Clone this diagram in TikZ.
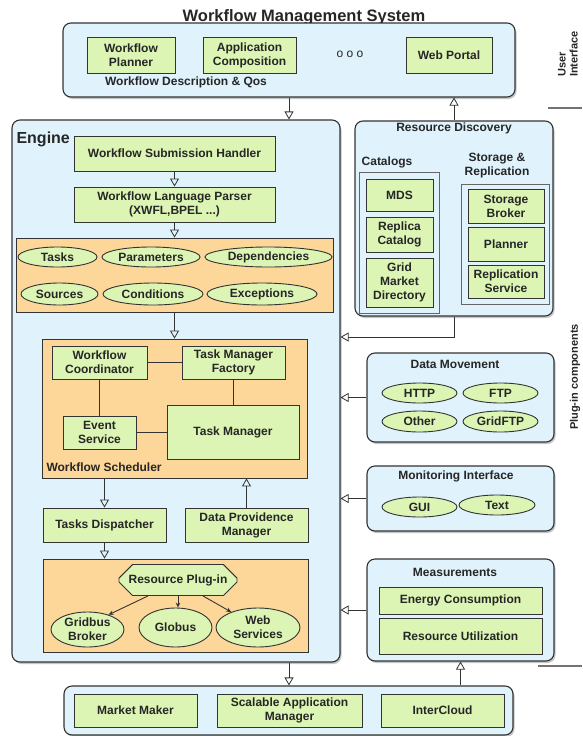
\documentclass[tikz,border=0pt]{standalone}
\usepackage{fontspec}
\setmainfont{Liberation Sans}
\usetikzlibrary{arrows.meta,shapes.geometric,shapes.misc,shadows}
\definecolor{bluebg}{HTML}{E0F3FC}
\definecolor{grn}{HTML}{DCF5B4}
\definecolor{org}{HTML}{FDD699}
\definecolor{edge}{HTML}{333333}
\tikzset{
 every node/.style={font=\bfseries\fontsize{12}{14}\selectfont, text=black!85},
 bluebox/.style={draw=edge, line width=1.1pt, fill=bluebg, rounded corners=8pt, inner sep=0pt,
   drop shadow={opacity=0.45, shadow xshift=1.5pt, shadow yshift=-2pt}},
 innerbox/.style={draw=black!60, line width=1pt, fill=bluebg, inner sep=0pt},
 greenbox/.style={draw=edge, line width=0.9pt, fill=grn, align=center, inner sep=0pt,
   drop shadow={opacity=0.3, shadow xshift=0.8pt, shadow yshift=-0.8pt}},
 orangebox/.style={draw=edge, line width=0.8pt, fill=org, inner sep=0pt},
 ovalnode/.style={ellipse, draw=edge, line width=0.9pt, fill=grn, align=center, inner sep=0pt},
 octnode/.style={chamfered rectangle, chamfered rectangle xsep=13pt, chamfered rectangle ysep=8pt,
   draw=edge, line width=0.9pt, fill=grn, inner sep=0pt, minimum width=118pt, minimum height=31pt},
 openarrow/.style={-{Triangle[open, width=9pt, length=8pt]}, line width=0.8pt, draw=edge},
 link/.style={line width=0.9pt, draw=edge},
 plugarrow/.style={-{Stealth[length=5pt,width=4.5pt]}, line width=0.9pt, draw=edge},
 sidelabel/.style={rotate=90, align=left, font=\bfseries\fontsize{11}{12}\selectfont},
 grayline/.style={draw=black!55, line width=1.5pt},
}
\newcommand\Bx[7]{%
 \pgfmathsetmacro\bxw{#5-#3}\pgfmathsetmacro\bxh{#6-#4}%
 \node[#1, minimum width=\bxw pt, minimum height=\bxh pt] (#2) at ({(#3+#5)/2},{(#4+#6)/2}) {#7};}
\begin{document}
\begin{tikzpicture}[x=1pt,y=-1pt]
\useasboundingbox (0,0) rectangle (582,736);
\clip (0,0) rectangle (582,736);
\fill[white] (0,0) rectangle (582,736);

% ---- User interface ----
\node[font=\bfseries\fontsize{16.5}{18}\selectfont, anchor=base] (title) at (304,21) {Workflow Management System};
\Bx{bluebox}{ui}{63}{23}{515}{97}{}
\Bx{greenbox}{wp}{87}{37}{175}{73}{Workflow\\Planner}
\Bx{greenbox}{ac}{203}{37}{296}{73}{Application\\Composition}
\node[font=\fontsize{12}{14}\selectfont] (dots) at (350,54) {o o o};
\Bx{greenbox}{wport}{406}{37}{492}{73}{Web Portal}
\node (wdq) at (186,82) {Workflow Description \& Qos};
\node[sidelabel] (uil) at (568,54) {User\\Interface};
\coordinate (g1a) at (548,108); \coordinate (g1b) at (582,108);
\draw[grayline] (g1a) -- (g1b);

% ---- Engine ----
\Bx{bluebox}{engine}{12}{120}{340}{662}{}
\node[font=\bfseries\fontsize{16}{18}\selectfont, anchor=west] (englabel) at (13,139) {Engine};
\Bx{greenbox}{wsh}{74}{136}{275}{171}{Workflow Submission Handler}
\Bx{greenbox}{wlp}{74}{187}{275}{222}{Workflow Language Parser\\(XWFL,BPEL ...)}
\Bx{orangebox}{tk}{16}{238}{333}{312}{}
\Bx{ovalnode}{tasks}{18}{247}{97}{267}{Tasks}
\Bx{ovalnode}{params}{102}{247}{200}{267}{Parameters}
\Bx{ovalnode}{deps}{205}{247}{332}{267}{Dependencies}
\Bx{ovalnode}{srcs}{21}{283}{98}{305}{Sources}
\Bx{ovalnode}{conds}{103}{283}{203}{305}{Conditions}
\Bx{ovalnode}{excs}{207}{283}{317}{305}{Exceptions}
\draw[openarrow] (wsh) -- (wlp);
\draw[openarrow] (wlp) -- (tk);

% scheduler
\Bx{orangebox}{ws}{42}{339}{307}{478}{}
\draw[openarrow] (tk) -- (ws);
\Bx{greenbox}{wc}{52}{346}{147}{379}{Workflow\\Coordinator}
\Bx{greenbox}{tmf}{182}{346}{285}{379}{Task Manager\\Factory}
\Bx{greenbox}{es}{63}{416}{136}{449}{Event\\Service}
\Bx{greenbox}{tm}{167}{405}{299}{459}{Task Manager}
\draw[link] (wc) -- (tmf);
\draw[link] (wc) -- (es);
\draw[link] (tmf.south) -- (tmf.south |- tm.north);
\draw[link] (es.east) -- (es.east -| tm.west);
\node[anchor=west] (wsl) at (43,467) {Workflow Scheduler};

\Bx{greenbox}{td}{43}{508}{166}{542}{Tasks Dispatcher}
\Bx{greenbox}{dpm}{185}{508}{308}{542}{Data Providence\\Manager}
\draw[openarrow] (ws.south -| td.north) -- (td.north);
\draw[openarrow] (dpm.north) -- (dpm.north |- ws.south);

% resource plug-in
\Bx{orangebox}{rb}{43}{559}{308}{652}{}
\draw[openarrow] (td.south) -- (td.south |- rb.north);
\node[octnode] (rp) at (178,580) {Resource Plug-in};
\Bx{ovalnode}{gbk}{51}{612}{124}{647}{Gridbus\\Broker}
\Bx{ovalnode}{glb}{139}{608}{212}{647}{Globus}
\Bx{ovalnode}{wsv}{216}{608}{300}{647}{Web\\Services}
\draw[plugarrow] ([xshift=-30pt]rp.south) -- (gbk.35);
\draw[plugarrow] (rp.south) -- (rp.south |- glb.north);
\draw[plugarrow] ([xshift=25pt]rp.south) -- (wsv.150);

% ---- Resource discovery ----
\Bx{bluebox}{rd}{355}{121}{553}{316}{}
\node (rdl) at (454,128) {Resource Discovery};
\node (catl) at (387,162) {Catalogs};
\node[align=center] (srl) at (497,166) {Storage \&\\Replication};
\Bx{innerbox}{cat}{359}{172}{439}{313}{}
\Bx{greenbox}{mds}{366}{179}{433}{211}{MDS}
\Bx{greenbox}{rc}{366}{217}{433}{252}{Replica\\Catalog}
\Bx{greenbox}{gmd}{366}{258}{433}{307}{Grid\\Market\\Directory}
\Bx{innerbox}{sr}{461}{184}{549}{304}{}
\Bx{greenbox}{sb}{468}{189}{544}{223}{Storage\\Broker}
\Bx{greenbox}{pl}{468}{227}{544}{261}{Planner}
\Bx{greenbox}{rs}{468}{265}{544}{298}{Replication\\Service}
\coordinate (rdj) at (454,337);
\draw[openarrow] (rd.south) -- (rdj) -- (rdj -| engine.east);
\draw[openarrow] (rd.north) -- (rd.north |- ui.south);
\draw[openarrow] (ui.south) -- (ui.south |- engine.north);

% ---- Data movement ----
\Bx{bluebox}{dm}{367}{353}{554}{442}{}
\node (dml) at (455,364) {Data Movement};
\Bx{ovalnode}{http}{382}{383}{457}{403}{HTTP}
\Bx{ovalnode}{ftp}{463}{383}{538}{403}{FTP}
\Bx{ovalnode}{oth}{382}{411}{457}{432}{Other}
\Bx{ovalnode}{gftp}{463}{411}{538}{432}{GridFTP}
\draw[openarrow] (dm.west) -- (dm.west -| engine.east);

% ---- Monitoring ----
\Bx{bluebox}{mi}{367}{466}{554}{531}{}
\node (mil) at (456,476) {Monitoring Interface};
\Bx{ovalnode}{gui}{382}{497}{457}{517}{GUI}
\Bx{ovalnode}{txt}{459}{495}{535}{515}{Text}
\draw[openarrow] (mi.west) -- (mi.west -| engine.east);

% ---- Measurements ----
\Bx{bluebox}{meas}{367}{559}{554}{661}{}
\node (measl) at (455,572) {Measurements};
\Bx{greenbox}{ec}{379}{587}{542}{614}{Energy Consumption}
\Bx{greenbox}{ru}{379}{618}{542}{654}{Resource Utilization}
\draw[openarrow] (meas.west) -- (meas.west -| engine.east);
\node[sidelabel] (plc) at (575,377) {Plug-in components};
\coordinate (g2a) at (538,666); \coordinate (g2b) at (582,666);
\draw[grayline] (g2a) -- (g2b);

% ---- Bottom ----
\Bx{bluebox}{bot}{64}{686}{513}{735}{}
\Bx{greenbox}{mm}{74}{694}{197}{727}{Market Maker}
\Bx{greenbox}{sam}{217}{694}{362}{727}{Scalable Application\\Manager}
\Bx{greenbox}{ic}{381}{694}{504}{727}{InterCloud}
\draw[openarrow] (engine.south -| ui.south) -- (ui.south |- bot.north);
\draw[openarrow] (meas.south |- bot.north) -- (meas.south);
\end{tikzpicture}
\end{document}
